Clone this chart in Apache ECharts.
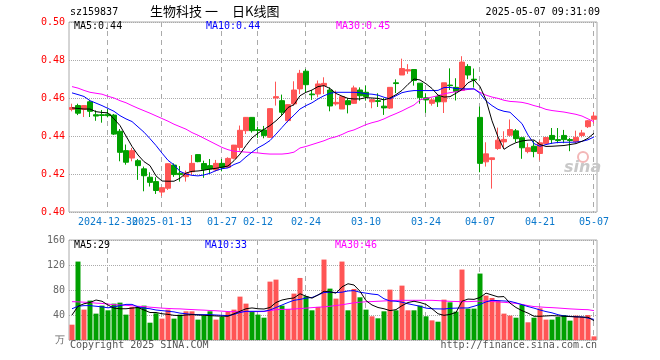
<!DOCTYPE html>
<html><head><meta charset="utf-8">
<script src="https://cdn.jsdelivr.net/npm/echarts@6/dist/echarts.min.js"></script>
<style>html,body{margin:0;padding:0;background:#fff}#c{width:660px;height:360px}</style>
</head><body><div id="c"></div>
<script>
const dates = ['2024-12-20','2024-12-23','2024-12-24','2024-12-25','2024-12-26','2024-12-27','2024-12-30','2024-12-31',
'2025-01-02','2025-01-03','2025-01-06','2025-01-07','2025-01-08','2025-01-09','2025-01-10','2025-01-13','2025-01-14','2025-01-15','2025-01-16','2025-01-17',
'2025-01-20','2025-01-21','2025-01-22','2025-01-23','2025-01-24','2025-01-27','2025-02-05','2025-02-06','2025-02-07','2025-02-10','2025-02-11','2025-02-12',
'2025-02-13','2025-02-14','2025-02-17','2025-02-18','2025-02-19','2025-02-20','2025-02-21','2025-02-24','2025-02-25','2025-02-26','2025-02-27','2025-02-28',
'2025-03-03','2025-03-04','2025-03-05','2025-03-06','2025-03-07','2025-03-10','2025-03-11','2025-03-12','2025-03-13','2025-03-14','2025-03-17','2025-03-18',
'2025-03-19','2025-03-20','2025-03-21','2025-03-24','2025-03-25','2025-03-26','2025-03-27','2025-03-28','2025-03-31','2025-04-01','2025-04-02','2025-04-03',
'2025-04-07','2025-04-08','2025-04-09','2025-04-10','2025-04-11','2025-04-14','2025-04-15','2025-04-16','2025-04-17','2025-04-18','2025-04-21','2025-04-22',
'2025-04-23','2025-04-24','2025-04-25','2025-04-28','2025-04-29','2025-04-30','2025-05-06','2025-05-07'];

const openP = [0.454,0.456,0.454,0.458,0.4512,0.4512,0.4515,0.451,0.4425,0.4323,0.4284,0.427,0.4227,0.4183,0.416,0.4105,0.4125,0.4247,0.4204,0.4186,
0.4212,0.4302,0.4255,0.4244,0.4221,0.4256,0.4235,0.4283,0.4340,0.4428,0.4498,0.4433,0.4432,0.4393,0.4600,0.4586,0.4481,0.4569,0.4648,0.4741,
0.4621,0.4621,0.4665,0.4642,0.4569,0.4542,0.4586,0.4572,0.4642,0.4630,0.4580,0.4586,0.4557,0.4547,0.4680,0.4721,0.4742,0.4750,0.4678,0.4601,
0.4572,0.4607,0.4580,0.4668,0.4656,0.4640,0.4766,0.4699,0.4498,0.4264,0.4276,0.4334,0.4369,0.4404,0.4427,0.4391,0.4318,0.4346,0.4308,0.4360,
0.4403,0.4381,0.4403,0.4381,0.4370,0.4403,0.4449,0.4488];
const closeP = [0.455,0.452,0.456,0.453,0.4505,0.4508,0.4507,0.441,0.4314,0.4262,0.4323,0.4244,0.4191,0.4156,0.4113,0.4128,0.4254,0.4197,0.4197,0.4204,
0.4256,0.4265,0.4224,0.4226,0.4256,0.4235,0.4282,0.4352,0.4430,0.4498,0.4428,0.4429,0.4402,0.4544,0.4607,0.4525,0.4565,0.4642,0.4730,0.4670,
0.4617,0.4674,0.4677,0.4558,0.4577,0.4607,0.4565,0.4653,0.4612,0.4607,0.4591,0.4582,0.4548,0.4656,0.4676,0.4755,0.4749,0.4692,0.4602,0.4590,
0.4590,0.4580,0.4680,0.4665,0.4634,0.4789,0.4721,0.4695,0.4256,0.4306,0.4285,0.4378,0.4382,0.4434,0.4386,0.4338,0.4338,0.4318,0.4364,0.4392,
0.4381,0.4376,0.4381,0.4376,0.4393,0.4416,0.4480,0.4505];
const lowP = [0.453,0.451,0.450,0.450,0.448,0.447,0.4498,0.4405,0.4267,0.4249,0.4267,0.4169,0.4109,0.4134,0.4095,0.4084,0.4116,0.4185,0.4160,0.4160,
0.4195,0.4262,0.4180,0.4200,0.4214,0.4214,0.4232,0.4277,0.4323,0.4410,0.4418,0.4390,0.4388,0.4390,0.4560,0.4507,0.4472,0.4560,0.4621,0.4630,
0.4590,0.4604,0.4621,0.4530,0.4560,0.4542,0.4519,0.4569,0.4586,0.4586,0.4546,0.4553,0.4511,0.4542,0.4626,0.4721,0.4727,0.4665,0.4570,0.4522,
0.4560,0.4553,0.4521,0.4642,0.4587,0.4637,0.4699,0.4655,0.4209,0.4239,0.4123,0.4327,0.4337,0.4397,0.4367,0.4280,0.4309,0.4288,0.4272,0.4360,
0.4358,0.4362,0.4362,0.4320,0.4362,0.4393,0.4442,0.4465];
const highP = [0.457,0.457,0.4563,0.459,0.4535,0.4537,0.4542,0.4516,0.4437,0.4355,0.4337,0.4279,0.4239,0.4209,0.4183,0.4130,0.4256,0.4256,0.4242,0.4218,
0.4300,0.4304,0.4270,0.4279,0.4274,0.4279,0.4288,0.4353,0.4455,0.4500,0.4500,0.4449,0.4453,0.4545,0.4686,0.4618,0.4568,0.4688,0.4748,0.4753,
0.4642,0.4692,0.4709,0.4656,0.4639,0.4607,0.4600,0.4665,0.4656,0.4665,0.4592,0.4625,0.4600,0.4656,0.4698,0.4807,0.4778,0.4750,0.4678,0.4625,
0.4600,0.4618,0.4680,0.4756,0.4704,0.4820,0.4778,0.4755,0.4555,0.4367,0.4286,0.4444,0.4425,0.4487,0.4437,0.4393,0.4362,0.4376,0.4376,0.4392,
0.4442,0.4442,0.4432,0.4390,0.4428,0.4432,0.4484,0.4527];

const ma5 = [0.4548,0.4545,0.4542,0.4542,0.4528,0.4524,0.4522,0.4490,0.4455,0.4400,0.4345,0.4300,0.4265,0.4244,0.4190,0.4163,0.4162,0.4162,0.4178,0.4205,
0.4214,0.4216,0.4220,0.4226,0.4230,0.4236,0.4242,0.4270,0.4305,0.4350,0.4390,0.4415,0.4435,0.4455,0.4480,0.4510,0.4550,0.4565,0.4612,0.4630,
0.4642,0.4660,0.4665,0.4650,0.4624,0.4610,0.4598,0.4595,0.4595,0.4602,0.4600,0.4598,0.4590,0.4600,0.4618,0.4640,0.4672,0.4700,0.4695,0.4675,
0.4650,0.4615,0.4605,0.4607,0.4625,0.4645,0.4680,0.4695,0.4660,0.4590,0.4480,0.4395,0.4330,0.4350,0.4365,0.4374,0.4378,0.4379,0.4355,0.4345,
0.4346,0.4348,0.4350,0.4355,0.4360,0.4372,0.4388,0.4415];
const ma10 = [0.4627,0.4618,0.4608,0.4586,0.4573,0.4560,0.4545,0.4530,0.4507,0.4490,0.4476,0.4448,0.4420,0.4386,0.4350,0.4310,0.4272,0.4248,0.4214,0.4200,
0.4193,0.4190,0.4195,0.4204,0.4218,0.4228,0.4232,0.4250,0.4262,0.4290,0.4315,0.4338,0.4355,0.4376,0.4410,0.4445,0.4480,0.4510,0.4542,0.4560,
0.4575,0.4595,0.4612,0.4625,0.4630,0.4630,0.4630,0.4630,0.4628,0.4622,0.4620,0.4615,0.4604,0.4595,0.4612,0.4628,0.4635,0.4639,0.4639,0.4639,
0.4639,0.4640,0.4655,0.4656,0.4650,0.4648,0.4648,0.4648,0.4625,0.4585,0.4560,0.4540,0.4530,0.4525,0.4495,0.4465,0.4405,0.4360,0.4346,0.4355,
0.4362,0.4366,0.4367,0.4367,0.4368,0.4372,0.4380,0.4395];
const ma30 = [0.4660,0.4652,0.4640,0.4630,0.4625,0.4620,0.4609,0.4600,0.4586,0.4575,0.4560,0.4546,0.4533,0.4520,0.4506,0.4492,0.4478,0.4462,0.4449,0.4436,
0.4418,0.4404,0.4388,0.4372,0.4356,0.4340,0.4328,0.4320,0.4318,0.4315,0.4313,0.4311,0.4307,0.4305,0.4305,0.4305,0.4308,0.4315,0.4337,0.4345,
0.4355,0.4365,0.4375,0.4388,0.4396,0.4408,0.4423,0.4432,0.4446,0.4460,0.4470,0.4478,0.4490,0.4505,0.4518,0.4532,0.4548,0.4563,0.4590,0.4598,
0.4605,0.4612,0.4622,0.4628,0.4633,0.4640,0.4645,0.4648,0.4630,0.4615,0.4605,0.4598,0.4588,0.4582,0.4580,0.4577,0.4570,0.4560,0.4552,0.4540,
0.4534,0.4530,0.4526,0.4520,0.4514,0.4505,0.4490,0.4475];

const volume = [24.5,125.5,48.6,63,42.2,55,47.5,58.2,59.8,40.6,52.9,52.9,55,27.7,42.7,34.2,48.6,34.2,40.6,45.9,
45.9,32.6,39,45.9,32.6,36.9,44.8,48.6,69.4,58.2,45.9,40.6,35.7,93.4,96.6,55,49.6,74.2,99.3,70,
47.5,52.9,128.7,82.2,66.2,125.5,47.5,81.7,68.3,48.6,37.9,34.7,45.9,80.6,47.5,87,47.5,47.5,55,37.9,
31.4,29.3,64.6,60.3,45.4,112.7,50.2,50.2,106.3,71,67.3,63,42.2,39,35.7,56.6,28.3,35.7,50.7,32.6,
32.6,36.9,40,31,39,36.9,40,5.8];
const vma5 = [40,54,58,60,64,62,56,51,50,50,51,52,48,44,44,42,41,39.5,39,40,
40.6,40,39.5,39,38.5,38,38,42,46,50,51.3,50,49.6,52,60,64,66,67.3,74,70,
67,72,78,77,75,85,90,88,78,63,56,52,50,47,48.6,55,60,62,60,57,
50,42,39.5,41,44,62,65.5,65,68,75,72,69,69.5,59,52,47,43,38,38,38.5,
39,38.5,38,37.5,37,36.7,36.4,31];
const vma10 = [50,54,55,55,54,53,51.5,53,55,57,57,53,51,50,48,47,46,45,43,42,
41,40.6,40.6,40.6,40,39.5,39,41,44,45.9,45.9,45.9,46,48,52,56,60,63.5,65,67,
68,72,76,76.5,76,76.5,78.5,79,76.4,75,73.5,72.5,66,62.5,62,60.5,58,56,54,51,
50,49.8,49.6,50.7,51,51.3,51.3,54,57,61,63.5,63,62.5,61.9,59.5,56.5,53.5,51,48,45.5,
43.5,40.5,38.5,37.8,37.2,36.9,35,33];
const vma30 = [61.4,61,60.5,60,59,58.5,57.5,56.5,56,55.5,54.8,54,53.5,52.5,51.8,51,50.5,50,49.8,49.2,
48.7,48.2,47.8,47.2,46.8,46.2,45.5,45.4,45.4,45.4,45.4,45.4,45.6,47,48.5,49,49.2,49.6,50.2,51,
51.8,52.5,53,54,55.2,56.4,58,59.5,60.5,61.2,61.5,62,62.5,63,63.4,63.5,63.5,63.5,63.5,63.5,
63.5,63,62.5,61.9,61.6,61.4,61.4,61.8,62.2,62.4,61.8,60.8,60.3,59.5,58.6,57,55,53.5,52.9,52.2,
51.8,51.2,50.5,49.8,49.3,48.8,48.5,47];

const tickDates = ['2024-12-30','2025-01-13','2025-01-27','2025-02-12','2025-02-24','2025-03-10','2025-03-24','2025-04-07','2025-04-21','2025-05-07'];
const tickLabels = ['2024-12-30','2025-01-13','01-27','02-12','02-24','03-10','03-24','04-07','04-21','05-07'];
const priceTicks = [0.40,0.42,0.44,0.46,0.48,0.50];
const volTicks = [0,40,80,120,160];

const UP = '#ff5555', DOWN = '#00a000';
const MONO = 'DejaVu Sans Mono';
const gridColor = '#aaaaaa';

const chart = echarts.init(document.getElementById('c'), null, {renderer: 'canvas'});

function txt(pos, top, text, color, size, family, align) {
  const o = {type: 'text', top: top,
    style: {text: text, fill: color, font: size + 'px "' + (family || MONO) + '"'}, silent: true, z: 100};
  if (align === 'right') o.right = pos; else o.left = pos;
  return o;
}
function dateAxis(keep) {
  return {type: 'category', gridIndex: 0, position: 'bottom', offset: 0, data: dates, boundaryGap: true,
     axisLine: {show: false}, axisTick: {show: false}, splitLine: {show: false},
     axisLabel: {color: '#0a78cc', fontFamily: MONO, fontSize: 10, margin: 5, hideOverlap: false,
       interval: (i, v) => keep(tickDates.indexOf(v)),
       formatter: v => { const k = tickDates.indexOf(v); return k >= 0 ? tickLabels[k] : ''; }}};
}
const texts = [
  txt(70, 7, 'sz159837', '#000', 10),
  txt(150, 5, '生物科技', '#000', 13, 'Noto Sans CJK SC'),
  txt(205, 5, '一', '#000', 13, 'Noto Sans CJK SC'),
  txt(232, 5, '日K线图', '#000', 13, 'Noto Sans CJK SC'),
  txt(60, 7, '2025-05-07 09:31:09', '#000', 10, MONO, 'right'),
  txt(74, 21, 'MA5:0.44', '#000', 10),
  txt(206, 21, 'MA10:0.44', '#0000ff', 10),
  txt(336, 21, 'MA30:0.45', '#ff00ff', 10),
  txt(74, 240, 'MA5:29', '#000', 10),
  txt(205, 240, 'MA10:33', '#0000ff', 10),
  txt(335, 240, 'MA30:46', '#ff00ff', 10),
  txt(70, 340, 'Copyright 2025 SINA.COM', '#555', 10),
  txt(63, 340, 'http://finance.sina.com.cn', '#555', 10, MONO, 'right'),
  {type: 'circle', shape: {cx: 583, cy: 157, r: 5}, style: {fill: 'none', stroke: '#f3b7b7', lineWidth: 2}, silent: true, z: 1},
  {type: 'text', left: 564, top: 160, style: {text: 'sina', fill: '#c8c8c8', font: 'italic bold 16px "DejaVu Sans"'}, silent: true, z: 1}
];

chart.setOption({
  animation: false,
  backgroundColor: '#ffffff',
  grid: [
    {left: 69, top: 22, width: 528, height: 190, show: true, borderColor: gridColor, borderWidth: 1, backgroundColor: 'transparent'},
    {left: 69, top: 240, width: 528, height: 100, show: true, borderColor: gridColor, borderWidth: 1, backgroundColor: 'transparent'}
  ],
  xAxis: [
    dateAxis(k => k >= 1),
    {type: 'category', gridIndex: 1, data: dates, boundaryGap: true,
     axisLine: {show: false}, axisTick: {show: false}, axisLabel: {show: false}, splitLine: {show: false}},
    dateAxis(k => k === 0)
  ],
  yAxis: [
    {type: 'value', gridIndex: 0, min: priceTicks[0], max: priceTicks[priceTicks.length-1], interval: 0.02,
     axisLine: {show: false}, axisTick: {show: false},
     splitLine: {show: true, lineStyle: {color: gridColor, type: 'dotted', width: 1}},
     axisLabel: {color: '#ff0000', fontFamily: MONO, fontSize: 10, margin: 4, formatter: v => v.toFixed(2)}},
    {type: 'value', gridIndex: 1, min: volTicks[0], max: volTicks[volTicks.length-1], interval: 40,
     axisLine: {show: false}, axisTick: {show: false},
     splitLine: {show: true, lineStyle: {color: gridColor, type: 'dotted', width: 1}},
     axisLabel: {color: '#666666', fontFamily: MONO, fontSize: 10, margin: 4, formatter: v => v === 0 ? '万' : String(v)}}
  ],
  series: [
    {type: 'candlestick', xAxisIndex: 0, yAxisIndex: 0, barWidth: 5, z: 3,
     data: dates.map((d, i) => [openP[i], closeP[i], lowP[i], highP[i]]),
     itemStyle: {color: UP, color0: DOWN, borderColor: UP, borderColor0: DOWN, borderWidth: 1}},
    {type: 'line', xAxisIndex: 0, yAxisIndex: 0, data: ma30, symbol: 'none', lineStyle: {color: '#ff00ff', width: 1}, z: 5},
    {type: 'line', xAxisIndex: 0, yAxisIndex: 0, data: ma10, symbol: 'none', lineStyle: {color: '#0000ff', width: 1}, z: 5},
    {type: 'line', xAxisIndex: 0, yAxisIndex: 0, data: ma5, symbol: 'none', lineStyle: {color: '#000000', width: 1}, z: 5},
    {type: 'bar', xAxisIndex: 1, yAxisIndex: 1, barWidth: 5, z: 3,
     data: volume.map((v, i) => ({value: v, itemStyle: {color: closeP[i] >= openP[i] ? UP : DOWN}}))},
    {type: 'line', xAxisIndex: 1, yAxisIndex: 1, data: vma30, symbol: 'none', lineStyle: {color: '#ff00ff', width: 1}, z: 5},
    {type: 'line', xAxisIndex: 1, yAxisIndex: 1, data: vma10, symbol: 'none', lineStyle: {color: '#0000ff', width: 1}, z: 5},
    {type: 'line', xAxisIndex: 1, yAxisIndex: 1, data: vma5, symbol: 'none', lineStyle: {color: '#000000', width: 1}, z: 5}
  ],
  graphic: texts
});

// dashed vertical guides at the labelled dates, positioned through the library's own axis scales
const guides = [];
[[0, 0, priceTicks], [1, 1, volTicks]].forEach(([xi, yi, ticks]) => {
  const yTop = chart.convertToPixel({yAxisIndex: yi}, ticks[ticks.length - 1]);
  const yBot = chart.convertToPixel({yAxisIndex: yi}, ticks[0]);
  tickDates.forEach(d => {
    const xc = chart.convertToPixel({xAxisIndex: xi}, dates.indexOf(d));
    if (typeof xc !== 'number' || isNaN(xc)) return;
    const x = Math.floor(xc) - 0.5;
    guides.push({type: 'line', silent: true, z: 0, zlevel: 0,
      shape: {x1: x, y1: yTop, x2: x, y2: yBot},
      style: {stroke: gridColor, lineWidth: 1, lineDash: [5, 4]}});
  });
});
chart.setOption({graphic: texts.concat(guides)});
</script></body></html>
